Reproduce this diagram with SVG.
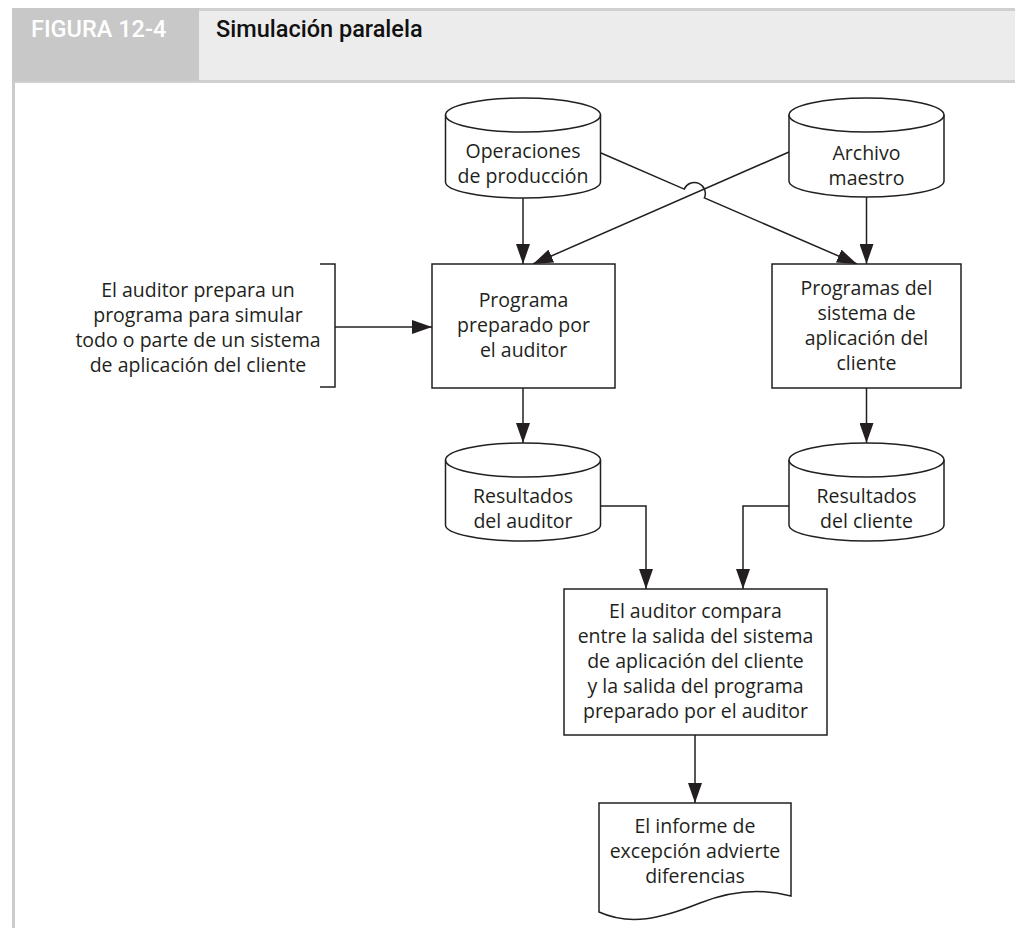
<svg xmlns="http://www.w3.org/2000/svg" width="1015" height="928" viewBox="0 0 1015 928">
<style>
.t{font-family:"Open Sans","Noto Sans","Liberation Sans",sans-serif;font-size:19.5px;fill:#231f20;text-anchor:middle}
.s{fill:#fff;stroke:#231f20;stroke-width:1.5}
.c{fill:none;stroke:#231f20;stroke-width:1.5}
.h{font-family:Roboto,"Liberation Sans",sans-serif;font-size:23.5px;font-weight:500}
</style>
<defs>
<marker id="ah" markerUnits="userSpaceOnUse" markerWidth="20" markerHeight="14" refX="20" refY="7" orient="auto">
<path d="M0,0 L20,7 L0,14 Z" fill="#231f20"/>
</marker>
</defs>
<rect width="1015" height="928" fill="#fff"/>
<g id="header">
<rect x="12" y="8" width="1003" height="75" fill="#d0d0d0"/>
<rect x="199" y="11" width="816" height="69" fill="#ececec"/>
<rect x="12" y="8" width="187" height="73" fill="#c8c8c8"/>
<rect x="12" y="81" width="3" height="847" fill="#cccccc"/>
<text x="31" y="37" class="h" fill="#fff">FIGURA 12-4</text>
<text x="216" y="37" class="h" fill="#111">Simulación paralela</text>
</g>
<g id="connectors" class="c">
<line x1="523" y1="198" x2="523" y2="264" marker-end="url(#ah)"/>
<line x1="866.5" y1="197" x2="866.5" y2="264" marker-end="url(#ah)"/>
<path d="M601,153 L684.2,189.1 A11,11 0 0 1 704.4,197.9 L857,264" marker-end="url(#ah)"/>
<line x1="789" y1="152" x2="533" y2="264" marker-end="url(#ah)"/>
<line x1="335" y1="327" x2="432" y2="327" marker-end="url(#ah)"/>
<line x1="523" y1="388" x2="523" y2="443" marker-end="url(#ah)"/>
<line x1="866.5" y1="388" x2="866.5" y2="443" marker-end="url(#ah)"/>
<path d="M601,506 H646 V589" marker-end="url(#ah)"/>
<path d="M789,506 H743 V589" marker-end="url(#ah)"/>
<line x1="695" y1="735" x2="695" y2="803" marker-end="url(#ah)"/>
</g>
<g id="bracket">
<path class="c" d="M320,264 H335 V387 H320"/>
<text class="t" x="198" y="297">El auditor prepara un</text>
<text class="t" x="198" y="322">programa para simular</text>
<text class="t" x="198" y="347">todo o parte de un sistema</text>
<text class="t" x="198" y="372">de aplicación del cliente</text>
</g>
<g id="cyl-operaciones">
<path class="s" d="M445.5,115 A77.5,17 0 0 1 600.5,115 V182 A77.5,16 0 0 1 445.5,182 Z"/>
<path class="c" d="M445.5,115 A77.5,17 0 0 0 600.5,115"/>
<text class="t" x="523" y="158">Operaciones</text>
<text class="t" x="523" y="183">de producción</text>
</g>
<g id="cyl-archivo">
<path class="s" d="M789,115 A77.5,17 0 0 1 944,115 V181 A77.5,16 0 0 1 789,181 Z"/>
<path class="c" d="M789,115 A77.5,17 0 0 0 944,115"/>
<text class="t" x="866.5" y="160">Archivo</text>
<text class="t" x="866.5" y="185">maestro</text>
</g>
<g id="box-programa">
<rect class="s" x="432" y="264" width="183" height="124"/>
<text class="t" x="523.5" y="307">Programa</text>
<text class="t" x="523.5" y="332">preparado por</text>
<text class="t" x="523.5" y="357">el auditor</text>
</g>
<g id="box-cliente">
<rect class="s" x="772" y="264" width="189" height="124"/>
<text class="t" x="866.5" y="295">Programas del</text>
<text class="t" x="866.5" y="320">sistema de</text>
<text class="t" x="866.5" y="345">aplicación del</text>
<text class="t" x="866.5" y="370">cliente</text>
</g>
<g id="cyl-res-auditor">
<path class="s" d="M445.5,460 A77.5,17 0 0 1 600.5,460 V525 A77.5,16 0 0 1 445.5,525 Z"/>
<path class="c" d="M445.5,460 A77.5,17 0 0 0 600.5,460"/>
<text class="t" x="523" y="503">Resultados</text>
<text class="t" x="523" y="528">del auditor</text>
</g>
<g id="cyl-res-cliente">
<path class="s" d="M789,460 A77.5,17 0 0 1 944,460 V525 A77.5,16 0 0 1 789,525 Z"/>
<path class="c" d="M789,460 A77.5,17 0 0 0 944,460"/>
<text class="t" x="866.5" y="503">Resultados</text>
<text class="t" x="866.5" y="528">del cliente</text>
</g>
<g id="box-compara">
<rect class="s" x="564" y="589" width="263" height="146"/>
<text class="t" x="695.5" y="618">El auditor compara</text>
<text class="t" x="695.5" y="643">entre la salida del sistema</text>
<text class="t" x="695.5" y="668">de aplicación del cliente</text>
<text class="t" x="695.5" y="693">y la salida del programa</text>
<text class="t" x="695.5" y="718">preparado por el auditor</text>
</g>
<g id="doc-informe">
<path class="s" d="M599,803 H791 V896 C765,889 735,889 700,903 C660,919 630,926 599,912 Z"/>
<text class="t" x="695" y="833">El informe de</text>
<text class="t" x="695" y="858">excepción advierte</text>
<text class="t" x="695" y="883">diferencias</text>
</g>
</svg>
